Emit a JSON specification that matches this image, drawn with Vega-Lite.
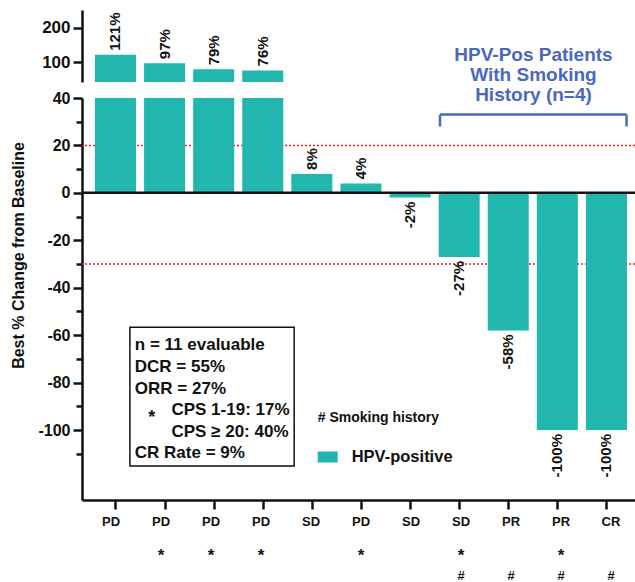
{
  "$schema": "https://vega.github.io/schema/vega-lite/v6.json",
  "background": "white",
  "padding": {"left": 10, "top": 10, "right": 0, "bottom": 0},
  "bounds": "flush",
  "spacing": 16,
  "data": {
    "values": [
      {"id": 1, "resp": "PD", "cps": "", "smoke": "", "value": 121, "group": "HPV-positive"},
      {"id": 2, "resp": "PD", "cps": "*", "smoke": "", "value": 97, "group": "HPV-positive"},
      {"id": 3, "resp": "PD", "cps": "*", "smoke": "", "value": 79, "group": "HPV-positive"},
      {"id": 4, "resp": "PD", "cps": "*", "smoke": "", "value": 76, "group": "HPV-positive"},
      {"id": 5, "resp": "SD", "cps": "", "smoke": "", "value": 8, "group": "HPV-positive"},
      {"id": 6, "resp": "PD", "cps": "*", "smoke": "", "value": 4, "group": "HPV-positive"},
      {"id": 7, "resp": "SD", "cps": "", "smoke": "", "value": -2, "group": "HPV-positive"},
      {"id": 8, "resp": "SD", "cps": "*", "smoke": "#", "value": -27, "group": "HPV-positive"},
      {"id": 9, "resp": "PR", "cps": "", "smoke": "#", "value": -58, "group": "HPV-positive"},
      {"id": 10, "resp": "PR", "cps": "*", "smoke": "#", "value": -100, "group": "HPV-positive"},
      {"id": 11, "resp": "CR", "cps": "", "smoke": "#", "value": -100, "group": "HPV-positive"}
    ]
  },
  "resolve": {"scale": {"x": "independent", "y": "independent"}},
  "vconcat": [
    {
      "width": 553,
      "height": 72,
      "layer": [
        {
          "transform": [{"filter": "datum.value > 40"}],
          "mark": {"type": "bar", "width": 41, "color": "#21b6ae", "clip": true},
          "encoding": {
            "x": {"field": "id", "type": "quantitative", "scale": {"domain": [0.42, 11.48], "nice": false, "zero": false}, "axis": null},
            "y": {"field": "value", "type": "quantitative", "scale": {"domain": [42.4, 251], "nice": false, "zero": false},
              "axis": {"values": [100, 200], "title": null, "tickSize": 9, "labelPadding": 3, "labelFontSize": 17}}
          }
        },
        {
          "transform": [{"filter": "datum.value > 40"}],
          "mark": {"type": "text", "angle": 270, "align": "left", "baseline": "middle", "dx": 4, "fontSize": 15, "fontWeight": "bold", "color": "#111", "text": {"expr": "datum.value + '%'"}},
          "encoding": {
            "x": {"field": "id", "type": "quantitative"},
            "y": {"field": "value", "type": "quantitative"}
          }
        },
        {
          "data": {"values": [{"note": "smoking"}]},
          "mark": {"type": "text", "align": "center", "baseline": "middle", "fontSize": 19, "fontWeight": "bold", "color": "#4b68bf", "lineHeight": 20,
            "text": ["HPV-Pos Patients", "With Smoking", "History (n=4)"]},
          "encoding": {
            "x": {"datum": 9.514, "type": "quantitative"},
            "y": {"datum": 120.6, "type": "quantitative"}
          }
        }
      ]
    },
    {
      "width": 553,
      "height": 402,
      "resolve": {"scale": {"y": "independent"}},
      "layer": [
        {
          "data": {"values": [{"t": 20}, {"t": -30}]},
          "mark": {"type": "rule", "color": "#e8202a", "strokeWidth": 1.5, "strokeDash": [2, 2]},
          "encoding": {"y": {"field": "t", "type": "quantitative",
            "scale": {"domain": [-129.5, 40], "nice": false, "zero": false},
            "axis": {"orient": "left", "values": [-110, -90, -70, -50, -30, -10, 10, 30], "labels": false, "domain": false, "tickSize": 6, "title": null}}}
        },
        {
          "layer": [
            {
              "mark": {"type": "bar", "width": 41, "clip": true},
              "encoding": {
                "x": {"field": "id", "type": "quantitative", "scale": {"domain": [0.42, 11.48], "nice": false, "zero": false},
                  "axis": {"values": [1, 2, 3, 4, 5, 6, 7, 8, 9, 10, 11], "labels": false, "title": null, "tickSize": 9}},
                "y": {"field": "value", "type": "quantitative", "scale": {"domain": [-129.5, 40], "nice": false, "zero": false},
                  "axis": {
                    "orient": "left",
                    "values": [-100, -80, -60, -40, -20, 0, 20, 40],
                    "labelExpr": "'' + datum.value",
                    "labelOverlap": false,
                    "tickSize": 9,
                    "labelPadding": 3,
                    "title": "Best % Change from Baseline",
                    "titleX": -64, "titleY": 157, "titleAngle": 270, "titleAlign": "center", "titleBaseline": "middle",
                    "titleFontSize": 16, "titleFontWeight": "bold", "titleColor": "#111"
                  }},
                "color": {"field": "group", "type": "nominal", "scale": {"range": ["#21b6ae"]},
                  "legend": {"title": "# Smoking history", "orient": "none", "legendX": 235.7, "legendY": 401,
                    "symbolType": "M-1,-0.55H1V0.55H-1Z", "symbolSize": 400, "symbolStrokeWidth": 0,
                    "labelFontSize": 16.5, "labelFontWeight": "bold", "labelColor": "#111", "labelOffset": 14,
                    "titleFontSize": 14, "titleFontWeight": "bold", "titleColor": "#111", "titlePadding": 22}}
              }
            },
            {
              "data": {"values": [{"z": 0}]},
              "mark": {"type": "rule", "color": "#111", "strokeWidth": 2.5},
              "encoding": {"y": {"field": "z", "type": "quantitative"}}
            },
            {
              "transform": [{"filter": "datum.value >= 0 && datum.value <= 40"}],
              "mark": {"type": "text", "angle": 270, "align": "left", "baseline": "middle", "dx": 4, "fontSize": 15, "fontWeight": "bold", "color": "#111", "text": {"expr": "datum.value + '%'"}},
              "encoding": {
                "x": {"field": "id", "type": "quantitative"},
                "y": {"field": "value", "type": "quantitative"}
              }
            },
            {
              "transform": [{"filter": "datum.value < 0"}],
              "mark": {"type": "text", "angle": 270, "align": "right", "baseline": "middle", "dx": -4, "fontSize": 15, "fontWeight": "bold", "color": "#111", "text": {"expr": "datum.value + '%'"}},
              "encoding": {
                "x": {"field": "id", "type": "quantitative"},
                "y": {"field": "value", "type": "quantitative"}
              }
            },
            {
              "data": {"values": [{"note": "bracket"}]},
              "mark": {"type": "rule", "color": "#4b68bf", "strokeWidth": 2.5},
              "encoding": {
                "x": {"datum": 7.61, "type": "quantitative"},
                "x2": {"datum": 11.41},
                "y": {"datum": 33, "type": "quantitative"}
              }
            },
            {
              "data": {"values": [{"leg": 7.61}, {"leg": 11.41}]},
              "mark": {"type": "rule", "color": "#4b68bf", "strokeWidth": 2.5},
              "encoding": {
                "x": {"field": "leg", "type": "quantitative"},
                "y": {"datum": 33, "type": "quantitative"},
                "y2": {"datum": 28}
              }
            },
            {
              "data": {"values": [{"note": "box"}]},
              "mark": {"type": "rect", "fill": null, "fillOpacity": 0, "stroke": "#111", "strokeWidth": 1.5},
              "encoding": {
                "x": {"datum": 1.294, "type": "quantitative"},
                "x2": {"datum": 4.64},
                "y": {"datum": -56.7, "type": "quantitative"},
                "y2": {"datum": -115.2}
              }
            },
            {
              "data": {"values": [{"note": "stats"}]},
              "mark": {"type": "text", "align": "left", "baseline": "middle", "fontSize": 17, "fontWeight": "bold", "color": "#111", "lineHeight": 21.7,
                "text": ["n = 11 evaluable", "DCR = 55%", "ORR = 27%"]},
              "encoding": {
                "x": {"datum": 1.394, "type": "quantitative"},
                "y": {"datum": -64.2, "type": "quantitative"}
              }
            },
            {
              "data": {"values": [{"note": "cr"}]},
              "mark": {"type": "text", "align": "left", "baseline": "middle", "fontSize": 17, "fontWeight": "bold", "color": "#111",
                "text": "CR Rate = 9%"},
              "encoding": {
                "x": {"datum": 1.394, "type": "quantitative"},
                "y": {"datum": -109.8, "type": "quantitative"}
              }
            },
            {
              "data": {"values": [{"note": "cps"}]},
              "mark": {"type": "text", "align": "left", "baseline": "middle", "fontSize": 17, "fontWeight": "bold", "color": "#111", "lineHeight": 21.7,
                "text": ["CPS 1-19: 17%", "CPS ≥ 20: 40%"]},
              "encoding": {
                "x": {"datum": 2.14, "type": "quantitative"},
                "y": {"datum": -91.6, "type": "quantitative"}
              }
            },
            {
              "data": {"values": [{"note": "star"}]},
              "mark": {"type": "text", "align": "center", "baseline": "middle", "fontSize": 18, "fontWeight": "bold", "color": "#111", "text": "*"},
              "encoding": {
                "x": {"datum": 1.74, "type": "quantitative"},
                "y": {"datum": -95.0, "type": "quantitative"}
              }
            }
          ]
        }
      ]
    },
    {
      "width": 553,
      "height": 66,
      "transform": [{"fold": ["resp", "cps", "smoke"], "as": ["key", "txt"]}],
      "mark": {"type": "text", "fontWeight": "bold", "baseline": "middle", "color": "#111",
        "fontSize": {"expr": "datum.key === 'cps' ? 17 : 13"},
        "dy": {"expr": "datum.key === 'cps' ? 7 : 0"}},
      "encoding": {
        "x": {"field": "id", "type": "quantitative", "scale": {"domain": [0.42, 11.48], "nice": false, "zero": false}, "axis": null},
        "y": {"field": "key", "type": "nominal", "scale": {"type": "point", "domain": ["resp", "cps", "smoke"], "range": [6, 60], "padding": 0}, "axis": null},
        "text": {"field": "txt"}
      }
    }
  ],
  "config": {
    "font": "Liberation Sans",
    "view": {"stroke": null},
    "axis": {
      "domainColor": "#111", "domainWidth": 2.5, "tickColor": "#111", "tickWidth": 2.5,
      "labelFont": "Liberation Sans", "labelFontSize": 16, "labelFontWeight": "bold", "labelColor": "#111", "grid": false
    },
    "legend": {"labelFont": "Liberation Sans", "titleFont": "Liberation Sans"}
  }
}
